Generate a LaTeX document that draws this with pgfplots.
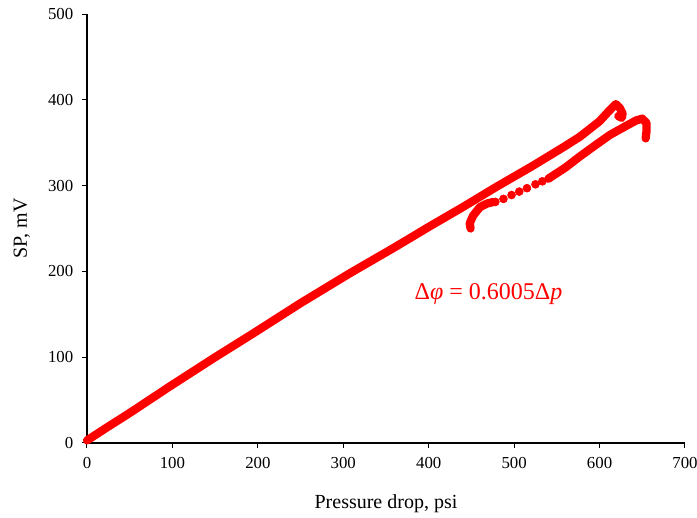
\documentclass[border=0pt]{standalone}
\usepackage{fontspec}
\setmainfont{Liberation Serif}
\usepackage{pgfplots}
\pgfplotsset{compat=1.18}
\begin{document}
\begin{tikzpicture}
\begin{axis}[
  scale only axis,
  width=448.5pt, height=321.75pt,
  xmin=0, xmax=700, ymin=0, ymax=500,
  xtick={0,100,...,700}, ytick={0,100,...,500},
  axis x line*=bottom, axis y line*=left,
  tick align=outside,
  major tick length=3.75pt,
  every tick/.style={black, line width=0.75pt},
  axis line style={black, line width=0.8pt},
  /pgf/number format/assume math mode=true,
  tick label style={font=\fontsize{12.6}{14}\selectfont},
  xticklabel style={yshift=-3.5pt},
  yticklabel style={xshift=-3pt},
  label style={font=\fontsize{15}{18}\selectfont},
  xlabel={Pressure drop, psi},
  ylabel={SP, mV},
  xlabel style={at={(axis description cs:0.5,-0.142)}, anchor=center},
  ylabel style={at={(axis description cs:-0.109,0.5)}, anchor=center},
  clip=false,
]
% main loading branch
\addplot[red, line width=6.2pt, line join=round, line cap=round] coordinates {
(0,3) (20,16) (50,35) (97,66) (150,100) (195,128) (250,163) (308,198)
(360,228) (402,253) (440,275) (480,299) (520,322) (558,345) (577,357)
(600,375) (612,388) (619,395) (624,390) (627,384) (626,379) (622,381)
};
% return branch (dense part near the end)
\addplot[red, line width=6.2pt, line join=round, line cap=round] coordinates {
(540,308) (560,321) (577,334) (595,347) (612,359) (630,369) (643,376)
(650,378) (655,373) (655,364) (654,355)
};
% return branch, sparse points
\addplot[red, only marks, mark=*, mark size=3pt] coordinates {
(478,281) (487.5,284.5) (497,289) (506,293) (515,297) (525,301.5) (533,305)
};
% return branch, tail
\addplot[red, line width=6.2pt, line join=round, line cap=round] coordinates {
(449,250) (448,256) (452,265) (460,275) (468,279) (476,281)
};
\node[red, font=\fontsize{18}{21}\selectfont] at (axis cs:470,173) {Δ\textit{φ} = 0.6005Δ\textit{p}};
\end{axis}
\pgfresetboundingbox
\path[use as bounding box] (-65.25pt,-56.25pt) rectangle (457.5pt,332.25pt);
\end{tikzpicture}
\end{document}
